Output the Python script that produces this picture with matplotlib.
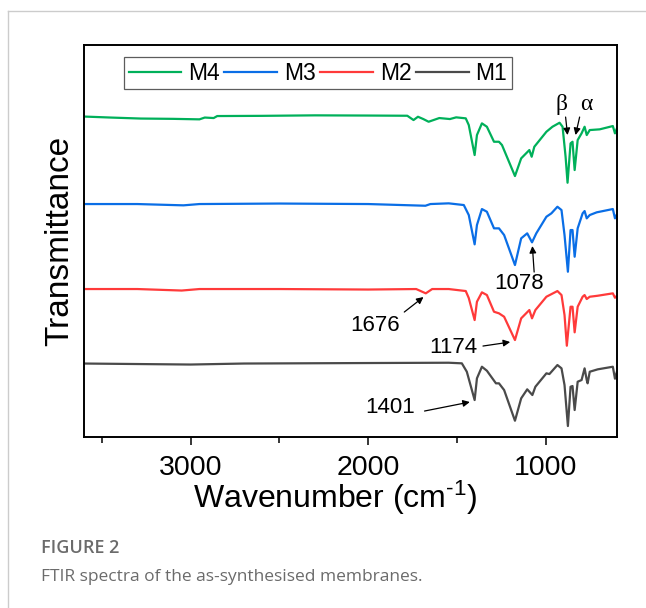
import matplotlib
matplotlib.use("Agg")
import matplotlib.pyplot as plt
from matplotlib.lines import Line2D
from matplotlib.ticker import MultipleLocator

plt.rcParams['font.family'] = ['Liberation Sans', 'DejaVu Sans']
plt.rcParams['mathtext.fontset'] = 'custom'
plt.rcParams['mathtext.rm'] = 'Liberation Sans'
plt.rcParams['mathtext.it'] = 'Liberation Sans:italic'

# FTIR spectra, stacked (a.u.)
wn_m4 = [3600, 3450, 3280, 3100, 2950, 2920, 2870, 2850, 2600, 2300, 2000, 1780, 1745,
         1720, 1690, 1660, 1600, 1540, 1505, 1451, 1434, 1401, 1388, 1360, 1332, 1292,
         1264, 1247, 1174, 1139, 1093, 1080, 1065, 997, 963, 923, 906, 889, 878, 861,
         850, 838, 821, 799, 782, 770, 753, 697, 623, 611, 600]
t_m4 = [320.5, 319.5, 318.5, 318.2, 317.7, 319.5, 319, 321, 321.2, 321.7, 321.5, 321.3, 317,
        320.3, 318, 315.3, 319, 318, 319.7, 318.7, 312, 282, 302, 313.7, 310.3, 295.3,
        295.3, 292, 261, 278.7, 287, 280.3, 290.3, 305.3, 310.3, 314.3, 310.3, 280.3, 254.3, 293.7,
        295.3, 267, 297, 303.7, 310.3, 302, 307, 307.7, 311, 303.7, 308.7]

wn_m3 = [3600, 3300, 3040, 2950, 2500, 2000, 1678, 1650, 1547, 1462, 1434, 1401, 1388,
         1360, 1332, 1292, 1264, 1235, 1174, 1139, 1105, 1078, 1054, 997, 969, 935, 912,
         895, 876, 861, 850, 838, 821, 793, 782, 770, 753, 714, 623, 611, 600]
t_m3 = [233, 233, 231.7, 233, 233.5, 233, 231.3, 233, 233.7, 232, 222, 192.7, 212,
        228, 225.3, 208.7, 208.7, 202, 172, 198.7, 203.7, 194.7, 203.7, 220.3, 223.7, 230.3, 227,
        202, 165.3, 207, 207, 180.3, 208.7, 223.7, 226, 218.7, 222, 224.7, 228, 218.7, 222.7]

wn_m2 = [3600, 3300, 3050, 2950, 2500, 2000, 1730, 1676, 1640, 1547, 1451, 1434, 1401,
         1388, 1360, 1332, 1292, 1264, 1235, 1174, 1139, 1093, 1078, 1059, 997, 935, 912,
         895, 882, 861, 850, 838, 821, 793, 782, 770, 753, 708, 623, 611, 600]
t_m2 = [148, 148, 146.5, 148, 148, 147.5, 148, 143.7, 148, 148, 146, 139, 117,
        135.3, 144.7, 142, 125.3, 123.7, 120.3, 97, 118.7, 127, 118.7, 127, 140.3, 146, 142,
        122, 91.3, 130.3, 130.3, 104.7, 130.3, 140.3, 142, 138, 140.3, 141.3, 143.7, 139.3, 141.3]

wn_m1 = [3600, 3300, 3000, 2700, 2000, 1547, 1473, 1445, 1401, 1388, 1360, 1332, 1281,
         1264, 1235, 1174, 1139, 1105, 1076, 1059, 997, 980, 935, 912, 895, 876, 861,
         850, 838, 821, 799, 782, 770, 765, 753, 708, 623, 611, 600]
t_m1 = [73.5, 73, 72.5, 73.5, 74, 74.3, 73.7, 65.3, 37, 58.7, 70.3, 66.3, 53.7,
        53.7, 47, 16.3, 38.7, 47.7, 42, 50.3, 63.7, 63, 72, 68.7, 52, 11, 50.3,
        51, 27, 55.3, 57, 68.7, 57, 53.7, 65.3, 67.7, 70.3, 58.3, 65.3]

labels = ['M4', 'M3', 'M2', 'M1']
colors = ['#00b05a', '#0a6ee6', '#ff3a3a', '#4a4a4a']

# peak annotations: label, text position, arrow tail, arrow tip
peak_labels = ['1078', '1676', '1174', '1401']
peak_text = [(1150, 154), (1961, 112), (1519, 90), (1876, 30)]
peak_tail = [(1066, 165), (1797, 125), (1354, 91), (1683, 26)]
peak_tip = [(1076, 191), (1689, 140), (1201, 95), (1428, 35)]

phase_labels = ['β', 'α']
phase_text = [(910, 333), (770, 333)]
phase_tail = [(889, 320), (810, 320)]
phase_tip = [(878, 302), (833, 302)]

fig = plt.figure(figsize=(6.46, 6.08), dpi=100)
ax = fig.add_axes([0.130, 0.2812, 0.825, 0.6447])

series = [(wn_m4, t_m4), (wn_m3, t_m3), (wn_m2, t_m2), (wn_m1, t_m1)]
handles = []
for (x, y), lab, c in zip(series, labels, colors):
    h, = ax.plot(x, y, color=c, lw=1.6, label=lab)
    handles.append(h)

ax.set_xlim(3600, 600)
ax.set_ylim(0, 392)
ax.set_yticks([])
ax.xaxis.set_major_locator(MultipleLocator(1000))
ax.xaxis.set_minor_locator(MultipleLocator(500))
ax.tick_params(axis='x', which='major', direction='out', length=6, width=1.1,
               labelsize=20.5, pad=7)
ax.tick_params(axis='x', which='minor', direction='out', length=4, width=1.1)
for s in ax.spines.values():
    s.set_linewidth(1.4)

ax.set_xlabel(r'Wavenumber (cm$^{\text{-1}}$)', fontsize=23)
ax.xaxis.set_label_coords(0.471, -0.106)
ax.set_ylabel('Transmittance', fontsize=24)
ax.yaxis.set_label_coords(-0.017, 0.5)

leg = ax.legend(handles=handles, ncol=4, loc='upper left', bbox_to_anchor=(0.075, 0.969),
                borderaxespad=0, fontsize=16.5, handlelength=2.3, handletextpad=0.3,
                columnspacing=0.2, borderpad=0.2, frameon=True, fancybox=False)
leg.get_frame().set_edgecolor('#333333')
leg.get_frame().set_linewidth(0.9)

arrow = dict(arrowstyle='-|>', color='black', lw=0.9, mutation_scale=10,
             shrinkA=0, shrinkB=0)
for lab, tp, tail, tip in zip(peak_labels, peak_text, peak_tail, peak_tip):
    ax.text(tp[0], tp[1], lab, fontsize=16, ha='center', va='center')
    ax.annotate('', xy=tip, xytext=tail, arrowprops=arrow)
for lab, tp, tail, tip in zip(phase_labels, phase_text, phase_tail, phase_tip):
    ax.text(tp[0], tp[1], lab, fontsize=17, ha='center', va='center',
            family=['Liberation Serif', 'DejaVu Serif'])
    ax.annotate('', xy=tip, xytext=tail, arrowprops=arrow)

# card frame and caption
fig.add_artist(Line2D([8 / 646, 1], [1 - 11 / 608, 1 - 11 / 608], color='#cccccc', lw=1))
fig.add_artist(Line2D([8 / 646, 8 / 646], [0, 1 - 11 / 608], color='#cccccc', lw=1))
fig.text(41 / 646, 1 - 548 / 608, 'FIGURE 2', fontsize=13, color='#6b6b6b',
         family='Open Sans', weight='semibold', va='center')
fig.text(41 / 646, 1 - 577 / 608, 'FTIR spectra of the as-synthesised membranes.',
         fontsize=12.5, color='#6b6b6b', family='Open Sans', va='center')

fig.savefig('out.png', dpi=100)
